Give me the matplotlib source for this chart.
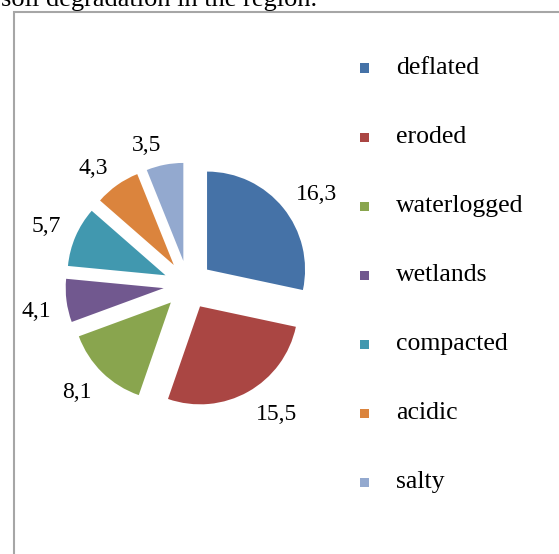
import numpy as np
import matplotlib.pyplot as plt
from matplotlib.patches import Rectangle

categories = ['deflated', 'eroded', 'waterlogged', 'wetlands', 'compacted', 'acidic', 'salty']
values = [16.3, 15.5, 8.1, 4.1, 5.7, 4.3, 3.5]
value_labels = ['16,3', '15,5', '8,1', '4,1', '5,7', '4,3', '3,5']
colors = ['#4572A7', '#AA4643', '#89A54E', '#71588F', '#4198AF', '#DB843D', '#93A9CF']

plt.rcParams['font.family'] = ['Liberation Serif', 'DejaVu Serif']

W, H = 559, 554
fig = plt.figure(figsize=(W / 100, H / 100), dpi=100)

# page text cut off at the top
fig.text(1 / W, 1 - 6 / H, 'soil degradation in the region.', fontsize=19,
         va='baseline', ha='left', color='black')

# chart frame (runs off the right and bottom edges)
fig.patches.append(Rectangle((14 / W, -0.1), 1.2, 1 - 12 / H + 0.1,
                             transform=fig.transFigure, fill=False,
                             edgecolor='#a6a6a6', linewidth=1.5))

# pie axes: centre (188, 285) px, radius 98 px
r = 98
lim = 1.9
side = 2 * lim * r
ax = fig.add_axes([(188 - side / 2) / W, (H - 285 - side / 2) / H, side / W, side / H])
wedges, texts = ax.pie(values, labels=value_labels, colors=colors, startangle=90,
                       counterclock=False, explode=[0.25] * len(values),
                       textprops={'fontsize': 17})
ax.set_xlim(-lim, lim)
ax.set_ylim(-lim, lim)
ax.set_aspect('equal')
ax.axis('off')

# value labels: nearest corner of the text box sits on the slice's mid ray,
# a bit outside the arc (Excel "outside end")
renderer = fig.canvas.get_renderer()
for w, t in zip(wedges, texts):
    t.set_ha('center')
    t.set_va('center')
    bb = t.get_window_extent(renderer)
    hw = bb.width / 2 / r
    hh = bb.height * 0.3 / r
    th = np.deg2rad((w.theta1 + w.theta2) / 2)
    cx, cy = w.center
    px = cx + 1.16 * np.cos(th)
    py = cy + 1.16 * np.sin(th) - 2.5 / r  # digits sit a little low in the box
    t.set_position((px + np.sign(np.cos(th)) * hw, py + np.sign(np.sin(th)) * hh))

# legend
for i, (name, c) in enumerate(zip(categories, colors)):
    y = 1 - (68 + i * 69) / H
    fig.patches.append(Rectangle((360 / W, y - 4.5 / H), 9 / W, 9 / H,
                                 transform=fig.transFigure, facecolor=c, edgecolor='none'))
    fig.text(396 / W, y, name, fontsize=18.5, va='center', ha='left')

fig.savefig('out.png', dpi=100)
